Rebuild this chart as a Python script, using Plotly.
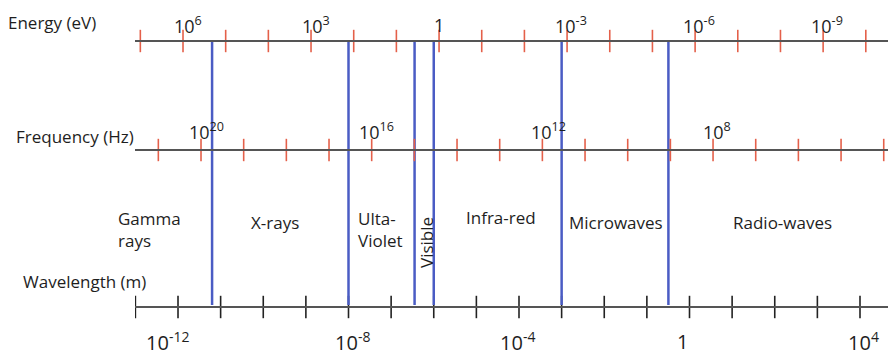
import numpy as np
import plotly.graph_objects as go

# ---------------- data ----------------
energy_ticks_ev = [1e7, 1e6, 1e5, 1e4, 1e3, 1e2, 1e1, 1e0, 1e-1, 1e-2, 1e-3,
                   1e-4, 1e-5, 1e-6, 1e-7, 1e-8, 1e-9, 1e-10]
energy_label_ev = [1e6, 1e3, 1e0, 1e-3, 1e-6, 1e-9]
energy_label_text = ["10<sup>6</sup>", "10<sup>3</sup>", "1", "10<sup>-3</sup>",
                     "10<sup>-6</sup>", "10<sup>-9</sup>"]

freq_ticks_hz = [1e21, 1e20, 1e19, 1e18, 1e17, 1e16, 1e15, 1e14, 1e13, 1e12,
                 1e11, 1e10, 1e9, 1e8, 1e7, 1e6, 1e5, 1e4]
freq_label_hz = [1e20, 1e16, 1e12, 1e8]
freq_label_text = ["10<sup>20</sup>", "10<sup>16</sup>", "10<sup>12</sup>", "10<sup>8</sup>"]

wave_ticks_m = [1e-13, 1e-12, 1e-11, 1e-10, 1e-9, 1e-8, 1e-7, 1e-6, 1e-5, 1e-4,
                1e-3, 1e-2, 1e-1, 1e0, 1e1, 1e2, 1e3, 1e4]
wave_label_m = [1e-12, 1e-8, 1e-4, 1e0, 1e4]
wave_label_text = ["10<sup>-12</sup>", "10<sup>-8</sup>", "10<sup>-4</sup>", "1", "10<sup>4</sup>"]

# band boundaries (wavelength, m)
band_edges_m = [6.3e-12, 1e-8, 3.55e-7, 1.0e-6, 1.0e-3, 0.32]
band_names = ["Gamma<br>rays", "X-rays", "Ulta-<br>Violet", "Visible",
              "Infra-red", "Microwaves", "Radio-waves"]

# ---------------- layout helpers ----------------
W, H = 888, 357
X0 = 135 / W                 # left end of the axis lines
Y_E, Y_F, Y_W = 41, 150, 307  # pixel rows of the three scales

FONT = "Open Sans"
RED = "#e4604a"
BLUE = "#4a5cc4"
LINE = "#555555"
TXT = "#1e1e1e"

fig = go.Figure()

# tick marks
def ticks(xs, xaxis, ypix, color):
    fig.add_trace(go.Scatter(
        x=xs, y=[ypix] * len(xs), mode="markers", xaxis=xaxis, yaxis="y",
        marker=dict(symbol="line-ns", size=16, color=color,
                    line=dict(color=color, width=1.6)),
        hoverinfo="skip"))

ticks(energy_ticks_ev, "x3", Y_E, RED)
ticks(freq_ticks_hz, "x2", Y_F, RED)
ticks(wave_ticks_m, "x", Y_W, "#222222")

# blue band separators (on the wavelength axis), drawn above the ticks
bx, by = [], []
for b in band_edges_m:
    bx += [b, b, None]
    by += [Y_E, 305, None]
fig.add_trace(go.Scatter(x=bx, y=by, mode="lines", xaxis="x", yaxis="y",
                         line=dict(color=BLUE, width=2.5), hoverinfo="skip"))

annotations = []

def tick_labels(vals, texts, xref, ypix, size, shifts):
    for v, t, s in zip(vals, texts, shifts):
        annotations.append(dict(
            x=np.log10(v), y=ypix, xref=xref, yref="y", text=t, showarrow=False,
            xanchor="center", yanchor="middle", xshift=s,
            font=dict(family=FONT, size=size, color=TXT)))

tick_labels(energy_label_ev, energy_label_text, "x3", 25, 18, [5, 5, 0, 4, 4, 4])
tick_labels(freq_label_hz, freq_label_text, "x2", 131, 18, [5, 5, 6, 4])
tick_labels(wave_label_m, wave_label_text, "x", 341, 20, [-11, 4, -2, -7, 3])

# scale titles
for t, y, x in [("Energy (eV)", 22, 6), ("Frequency (Hz)", 136, 14), ("Wavelength (m)", 281, 21)]:
    annotations.append(dict(x=x / W, y=y, xref="paper", yref="y", text=t,
                            showarrow=False, xanchor="left", yanchor="middle",
                            font=dict(family=FONT, size=17, color=TXT)))

# band names: (x reference, x value, anchor side, row, angle)
band_label_pos = [
    ("paper", 116 / W, "left", 229, 0),
    ("x", np.log10(1.89e-10), "center", 222, 0),
    ("x", np.log10(1.50e-8), "left", 229, 0),
    ("x", np.log10(6.58e-7), "center", 243, -90),
    ("x", np.log10(3.79e-5), "center", 217, 0),
    ("x", np.log10(1.89e-2), "center", 222, 0),
    ("x", np.log10(1.48e2), "center", 222, 0),
]
for name, (xr, xv, anc, y, ang) in zip(band_names, band_label_pos):
    annotations.append(dict(x=xv, y=y, xref=xr, yref="y", text=name,
                            showarrow=False, xanchor=anc, yanchor="middle",
                            align="left", textangle=ang,
                            font=dict(family=FONT, size=17, color=TXT)))

axis_common = dict(type="log", showgrid=False, zeroline=False, showticklabels=False,
                   ticks="", showline=True, linecolor=LINE, linewidth=2,
                   anchor="free")

fig.update_layout(
    width=W, height=H,
    margin=dict(l=0, r=0, t=0, b=0),
    paper_bgcolor="white", plot_bgcolor="white",
    showlegend=False,
    xaxis=dict(**axis_common, domain=[X0, 1], range=[-13.009, 4.657],
               position=1 - Y_W / H),
    xaxis2=dict(**axis_common, overlaying="x", range=[21.547, 3.90],
                position=1 - Y_F / H),
    xaxis3=dict(**axis_common, overlaying="x", range=[7.125, -10.52],
                position=1 - Y_E / H),
    yaxis=dict(range=[H, 0], domain=[0, 1], visible=False, fixedrange=True),
    annotations=annotations,
)

fig.write_html("out.html")
